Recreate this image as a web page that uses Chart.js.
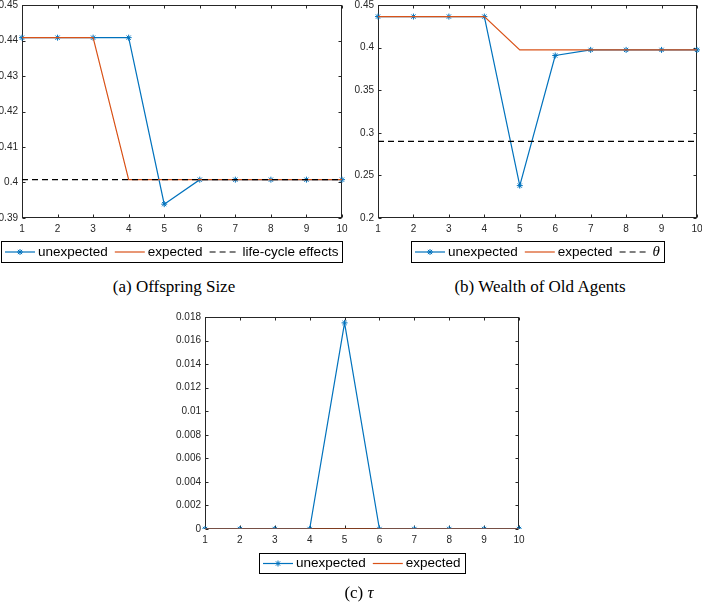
<!DOCTYPE html>
<html>
<head>
<meta charset="utf-8">
<script src="https://cdn.jsdelivr.net/npm/chart.js@4.4.1/dist/chart.umd.min.js"></script>
<style>
  body { margin: 0; width: 702px; height: 604px; background: #fff; position: relative; overflow: hidden; }
  canvas { position: absolute; }
  .caption { position: absolute; text-align: center; font: 17px "Liberation Serif", "Times New Roman", serif; color: #000; line-height: 20px; }
</style>
</head>
<body>
<canvas id="chartSize" width="350" height="270" style="left:0;top:0"></canvas>
<div class="caption" style="left:0;top:277px;width:348px">(a) Offspring Size</div>
<canvas id="chartWealth" width="352" height="270" style="left:350px;top:0"></canvas>
<div class="caption" style="left:440px;top:277px;width:200px">(b) Wealth of Old Agents</div>
<canvas id="chartTau" width="400" height="290" style="left:150px;top:300px"></canvas>
<div class="caption" style="left:259px;top:583px;width:200px">(c) <i>τ</i></div>
<script>
// ---- dados ----
const periods = ['1', '2', '3', '4', '5', '6', '7', '8', '9', '10'];

const sizeUnexpected = [0.4408, 0.4408, 0.4408, 0.4408, 0.3939, 0.4008, 0.4008, 0.4008, 0.4008, 0.4008];
const sizeExpected   = [0.4408, 0.4408, 0.4408, 0.4008, 0.4008, 0.4008, 0.4008, 0.4008, 0.4008, 0.4008];
const sizeLifeCycle  = [0.4008, 0.4008, 0.4008, 0.4008, 0.4008, 0.4008, 0.4008, 0.4008, 0.4008, 0.4008];

const wealthUnexpected = [0.4364, 0.4364, 0.4364, 0.4364, 0.238, 0.3907, 0.3973, 0.3973, 0.3973, 0.3973];
const wealthExpected   = [0.4364, 0.4364, 0.4364, 0.4364, 0.3973, 0.3973, 0.3973, 0.3973, 0.3973, 0.3973];
const wealthTheta      = [0.29, 0.29, 0.29, 0.29, 0.29, 0.29, 0.29, 0.29, 0.29, 0.29];

const tauUnexpected = [0, 0, 0, 0, 0.0175, 0, 0, 0, 0, 0];
const tauExpected   = [0, 0, 0, 0, 0, 0, 0, 0, 0, 0];

const sizeRange   = { min: 0.39, max: 0.45, step: 0.01 };
const wealthRange = { min: 0.2, max: 0.45, step: 0.05 };
const tauRange    = { min: 0, max: 0.018, step: 0.002 };

const BLUE = '#0072BD';
const ORANGE = '#D95319';
const AXIS = '#262626';
const TICK_FONT = '"Liberation Sans", Arial, sans-serif';

// caixa dos eixos com ticks para dentro (estilo MATLAB)
const matlabAxes = {
    id: 'matlabAxes',
    beforeDatasetsDraw(chart) {
        const { ctx, chartArea: a, scales: { x, y } } = chart;
        const L = Math.round(a.left) + 0.5, R = Math.round(a.right) - 0.5;
        const T = Math.round(a.top) + 0.5, B = Math.round(a.bottom) - 0.5;
        ctx.save();
        ctx.strokeStyle = AXIS;
        ctx.lineWidth = 1;
        ctx.strokeRect(L, T, R - L, B - T);
        ctx.beginPath();
        x.ticks.forEach((t, i) => {
            const px = Math.round(x.getPixelForTick(i)) + 0.5;
            ctx.moveTo(px, B); ctx.lineTo(px, B - 3);
            ctx.moveTo(px, T); ctx.lineTo(px, T + 3);
        });
        y.ticks.forEach((t, i) => {
            const py = Math.round(y.getPixelForTick(i)) + 0.5;
            ctx.moveTo(L, py); ctx.lineTo(L + 3, py);
            ctx.moveTo(R, py); ctx.lineTo(R - 3, py);
        });
        ctx.stroke();
        ctx.restore();
    }
};

function drawStar(ctx, cx, cy, r, color) {
    const d = r * Math.SQRT1_2;
    ctx.save();
    ctx.strokeStyle = color;
    ctx.lineWidth = 1;
    ctx.beginPath();
    ctx.moveTo(cx - r, cy); ctx.lineTo(cx + r, cy);
    ctx.moveTo(cx, cy - r); ctx.lineTo(cx, cy + r);
    ctx.moveTo(cx - d, cy - d); ctx.lineTo(cx + d, cy + d);
    ctx.moveTo(cx - d, cy + d); ctx.lineTo(cx + d, cy - d);
    ctx.stroke();
    ctx.restore();
}

// legenda com moldura abaixo do gráfico
const boxLegend = {
    id: 'boxLegend',
    afterDraw(chart, args, opts) {
        const { ctx, chartArea: a } = chart;
        const textFont = '13.5px ' + TICK_FONT;
        const mathFont = 'italic 15px "Liberation Serif", serif';
        const sample = 30, gapText = 3, gapItem = 7, padL = 4, padR = 4;
        ctx.save();
        const items = chart.data.datasets.map(ds => {
            ctx.font = ds.mathLabel ? mathFont : textFont;
            return { ds, w: ctx.measureText(ds.label).width };
        });
        let total = padL + padR;
        items.forEach((it, i) => { total += sample + gapText + it.w + (i < items.length - 1 ? gapItem : 0); });
        const cx = (a.left + a.right) / 2 + (opts.shift || 0);
        const left = Math.round(cx - total / 2);
        const top = Math.round(a.bottom + opts.gap);
        const h = opts.height;
        ctx.fillStyle = '#fff';
        ctx.fillRect(left, top, total, h);
        ctx.strokeStyle = '#000';
        ctx.lineWidth = 1;
        ctx.strokeRect(left + 0.5, top + 0.5, Math.round(total), h);
        const my = top + h / 2 + 0.5;
        let xPos = left + padL;
        items.forEach(it => {
            const ds = it.ds;
            ctx.strokeStyle = ds.borderColor;
            ctx.lineWidth = ds.borderWidth;
            ctx.setLineDash(ds.borderDash || []);
            ctx.beginPath();
            ctx.moveTo(xPos, my); ctx.lineTo(xPos + sample, my);
            ctx.stroke();
            ctx.setLineDash([]);
            if (ds.pointRadius > 0) drawStar(ctx, xPos + sample / 2, my, 3, ds.borderColor);
            xPos += sample + gapText;
            ctx.fillStyle = '#000';
            ctx.font = ds.mathLabel ? mathFont : textFont;
            ctx.textBaseline = 'middle';
            ctx.textAlign = 'left';
            ctx.fillText(ds.label, xPos, my);
            xPos += it.w + gapItem;
        });
        ctx.restore();
    }
};

function serie(label, data, color, opts = {}) {
    return Object.assign({
        label,
        data,
        borderColor: color,
        backgroundColor: color,
        borderWidth: 1.2,
        pointRadius: 0,
        pointStyle: 'star',
        pointBorderWidth: 1,
        pointBorderColor: color,
        tension: 0,
        fill: false
    }, opts);
}

function makePanel(id, datasets, range, box) {
    const ctx = document.getElementById(id).getContext('2d');
    return new Chart(ctx, {
        type: 'line',
        data: { labels: periods, datasets },
        plugins: [matlabAxes, boxLegend],
        options: {
            responsive: false,
            animation: false,
            devicePixelRatio: 1,
            layout: { padding: box.padding },
            plugins: {
                legend: { display: false },
                tooltip: { enabled: false },
                boxLegend: box.legend
            },
            scales: {
                x: {
                    type: 'category',
                    offset: false,
                    grid: { display: false, drawTicks: false },
                    border: { display: false },
                    ticks: { color: AXIS, font: { family: TICK_FONT, size: 10 }, padding: 5, maxRotation: 0, autoSkip: false },
                    afterFit: (s) => { s.height = 14; s.paddingLeft = 0; s.paddingRight = 0; }
                },
                y: {
                    min: range.min,
                    max: range.max,
                    grid: { display: false, drawTicks: false },
                    border: { display: false },
                    ticks: {
                        stepSize: range.step,
                        color: AXIS,
                        font: { family: TICK_FONT, size: 10 },
                        padding: 4,
                        callback: (v) => String(+Number(v).toFixed(6))
                    },
                    afterFit: (s) => { s.width = box.yWidth; s.paddingTop = 0; s.paddingBottom = 0; }
                }
            }
        }
    });
}

const starOpts = { pointRadius: 3, order: 2 };

makePanel('chartSize', [
    serie('unexpected', sizeUnexpected, BLUE, starOpts),
    serie('expected', sizeExpected, ORANGE, { order: 1 }),
    serie('life-cycle effects', sizeLifeCycle, '#000', { borderDash: [6, 4], order: 0 })
], sizeRange, {
    padding: { left: 0, top: 3, right: 8, bottom: 38 },
    yWidth: 22,
    legend: { gap: 23, height: 21, shift: -10 }
});

makePanel('chartWealth', [
    serie('unexpected', wealthUnexpected, BLUE, starOpts),
    serie('expected', wealthExpected, ORANGE, { order: 1 }),
    serie('θ', wealthTheta, '#000', { borderDash: [6, 4], order: 0, mathLabel: true })
], wealthRange, {
    padding: { left: 0, top: 3, right: 4, bottom: 38 },
    yWidth: 28,
    legend: { gap: 23, height: 21, shift: 0 }
});

makePanel('chartTau', [
    serie('unexpected', tauUnexpected, BLUE, starOpts),
    serie('expected', tauExpected, ORANGE, { order: 1 })
], tauRange, {
    padding: { left: 0, top: 17, right: 31, bottom: 47 },
    yWidth: 55,
    legend: { gap: 24, height: 20, shift: 0 }
});
</script>
</body>
</html>
